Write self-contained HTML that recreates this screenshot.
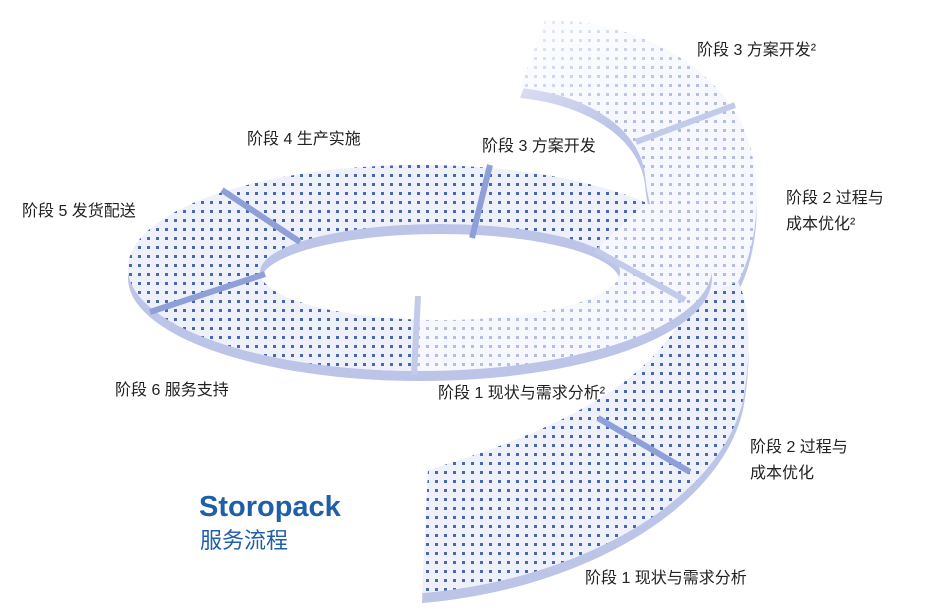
<!DOCTYPE html>
<html><head><meta charset="utf-8"><style>
body{margin:0;background:#fff;width:928px;height:613px;overflow:hidden}
svg{display:block}
text{font-family:"Liberation Sans","Noto Sans CJK SC",sans-serif;font-size:16px;fill:#222}
</style></head><body>
<svg width="928" height="613" viewBox="0 0 928 613">
<defs>
<pattern id="dots" width="9" height="9" patternUnits="userSpaceOnUse">
<rect width="9" height="9" fill="#eef1fa"/><rect x="3" y="3" width="3" height="3" fill="#4a68b0"/>
</pattern>
<pattern id="dotsL" width="9" height="9" patternUnits="userSpaceOnUse">
<rect width="9" height="9" fill="#f6f8fd"/><rect x="3" y="3" width="3" height="3" fill="#b3bfe0"/>
</pattern>
<linearGradient id="fadeTop" x1="0" y1="0" x2="1" y2="1">
<stop offset="0" stop-color="#fff" stop-opacity="0.95"/><stop offset="0.6" stop-color="#fff" stop-opacity="0"/>
</linearGradient>
<clipPath id="solidRing"><polygon points="0,0,650,0,650,200,595,250,420,295,415,400,0,400"/></clipPath>
<clipPath id="lowBand"><polygon points="400,340,700,270,800,300,800,613,400,613"/></clipPath>
</defs>

<g transform="translate(0,10)">
<path d="M422,593 C580,580 720,500 743,400 C752,350 750,305 738,282 C760,240 765,170 740,120 C700,50 620,20 545,20 L520,88 C590,95 640,130 645,175 C650,230 680,270 690,300 C660,380 560,430 428,470 Z" fill="#bcc4e8"/>
</g>
<path d="M422,593 C580,580 720,500 743,400 C752,350 750,305 738,282 C760,240 765,170 740,120 C700,50 620,20 545,20 L520,88 C590,95 640,130 645,175 C650,230 680,270 690,300 C660,380 560,430 428,470 Z" fill="url(#dotsL)"/>
<path clip-path="url(#lowBand)" d="M422,593 C580,580 720,500 743,400 C752,350 750,305 738,282 L690,300 C660,380 560,430 428,470 Z" fill="url(#dots)"/>
<rect x="480" y="0" width="300" height="170" fill="url(#fadeTop)"/>

<path transform="translate(0,10)" fill-rule="evenodd" d="M128,268 a292,103 0 1,0 584,0 a292,103 0 1,0 -584,0 Z M260,272 a180,48 0 1,0 360,0 a180,48 0 1,0 -360,0 Z" fill="#bcc4e8"/>
<path fill-rule="evenodd" d="M128,268 a292,103 0 1,0 584,0 a292,103 0 1,0 -584,0 Z M260,272 a180,48 0 1,0 360,0 a180,48 0 1,0 -360,0 Z" fill="url(#dotsL)"/>
<path clip-path="url(#solidRing)" fill-rule="evenodd" d="M128,268 a292,103 0 1,0 584,0 a292,103 0 1,0 -584,0 Z M260,272 a180,48 0 1,0 360,0 a180,48 0 1,0 -360,0 Z" fill="url(#dots)"/>

<g stroke="#8f9fd8" stroke-width="6">
<line x1="150" y1="312" x2="265" y2="274"/>
<line x1="222" y1="190" x2="300" y2="242"/>
<line x1="490" y1="165" x2="472" y2="238"/>
<line x1="598" y1="418" x2="690" y2="472"/>
</g>
<g stroke="#c3cbea" stroke-width="6">
<line x1="595" y1="250" x2="685" y2="300"/>
<line x1="636" y1="142" x2="735" y2="105"/>
<line x1="418" y1="296" x2="414" y2="375"/>
</g>

<text x="697" y="55">阶段 3 方案开发²</text>
<text x="482" y="151">阶段 3 方案开发</text>
<text x="247" y="144">阶段 4 生产实施</text>
<text x="22" y="216">阶段 5 发货配送</text>
<text x="786" y="203">阶段 2 过程与</text>
<text x="786" y="229">成本优化²</text>
<text x="115" y="395">阶段 6 服务支持</text>
<text x="438" y="398">阶段 1 现状与需求分析²</text>
<text x="750" y="452">阶段 2 过程与</text>
<text x="750" y="478">成本优化</text>
<text x="585" y="583">阶段 1 现状与需求分析</text>
<text x="199" y="516" style="font-size:29px;font-weight:bold;fill:#1f5ea8">Storopack</text>
<text x="200" y="548" style="font-size:22px;fill:#1f5ea8">服务流程</text>
</svg>
</body></html>
